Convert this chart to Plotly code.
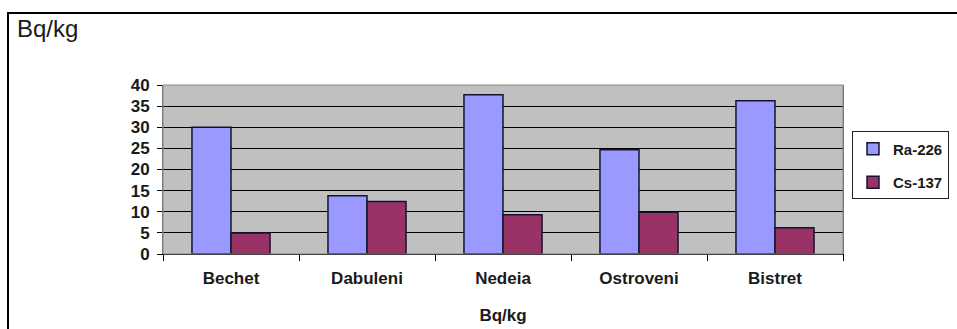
import plotly.graph_objects as go

# Activity concentrations per sampling site
sites = ["Bechet", "Dabuleni", "Nedeia", "Ostroveni", "Bistret"]
ra226 = [30.0, 13.8, 37.7, 24.7, 36.3]
cs137 = [5.0, 12.4, 9.3, 9.9, 6.2]
y_ticks = [0, 5, 10, 15, 20, 25, 30, 35, 40]

FONT = "Liberation Sans, Arial, sans-serif"

fig = go.Figure()
fig.add_trace(go.Bar(
    name="Ra-226", x=sites, y=ra226, legendgroup="ra",
    marker=dict(color="#9999ff", line=dict(color="#141432", width=1.5)),
))
fig.add_trace(go.Bar(
    name="Cs-137", x=sites, y=cs137, legendgroup="cs",
    marker=dict(color="#993366", line=dict(color="#141432", width=1.5)),
))

fig.update_layout(
    width=957, height=329,
    margin=dict(l=163, r=114, t=85, b=75, autoexpand=False),
    paper_bgcolor="white", plot_bgcolor="#c0c0c0",
    barmode="group", bargap=0.426, bargroupgap=0,
    font=dict(family=FONT, color="#1a1a1a"),
    showlegend=True,
    legend=dict(
        x=(852 - 163) / 680, y=0.725, xanchor="left", yanchor="top",
        bgcolor="white", bordercolor="#222222", borderwidth=1,
        font=dict(size=15, family=FONT, weight="bold"),
        tracegroupgap=11, itemwidth=30,
    ),
    xaxis=dict(
        automargin=False,
        showgrid=False, showline=True, linecolor="black", linewidth=1.2,
        ticks="outside", tickson="boundaries", ticklen=6, tickcolor="black",
        tickfont=dict(size=17, family=FONT, weight="bold"),
        ticklabelstandoff=8,
        title=dict(text="Bq/kg", standoff=22,
                   font=dict(size=17, family=FONT, weight="bold")),
    ),
    yaxis=dict(
        automargin=False,
        range=[0, 40], tickvals=y_ticks,
        showgrid=True, gridcolor="black", gridwidth=1.2,
        showline=True, linecolor="#666666", linewidth=1, mirror=True,
        ticks="outside", ticklen=5, tickcolor="black",
        tickfont=dict(size=17, family=FONT, weight="bold"),
        ticklabelstandoff=4,
        zeroline=False,
    ),
    shapes=[
        # gray border round the plotting area
        dict(type="rect", xref="paper", yref="paper", x0=0, x1=1, y0=0, y1=1,
             line=dict(color="#888888", width=1), layer="above"),
        # outer frame of the chart
        dict(type="rect", xref="paper", yref="paper",
             x0=(8 - 163) / 680, x1=1.3, y0=-0.6, y1=(254 - 13) / 169,
             line=dict(color="black", width=2), layer="above"),
    ],
    annotations=[
        dict(text="Bq/kg", xref="paper", yref="paper",
             x=(15 - 163) / 680, y=(254 - 28) / 169,
             xanchor="left", yanchor="middle", showarrow=False,
             font=dict(size=24, family=FONT, color="#1a1a1a")),
    ],
)

fig.write_html("out.html")
